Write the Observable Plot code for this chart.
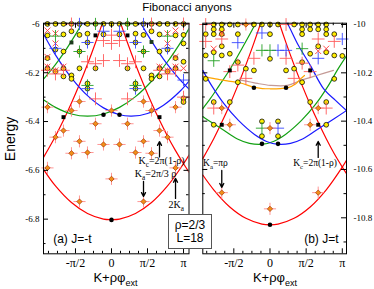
<!DOCTYPE html>
<html>
<head>
<meta charset="utf-8">
<script src="https://cdn.jsdelivr.net/npm/d3@7"></script>
<script src="https://cdn.jsdelivr.net/npm/@observablehq/plot@0.6"></script>
<style>
html,body{margin:0;padding:0;background:#fff;}
#wrap{position:relative;width:374px;height:289px;overflow:hidden;background:#fff;font-family:"Liberation Sans",Arial,sans-serif;color:#000;}
#left,#right{position:absolute;top:0;}
#left{left:0;width:192px;}
#right{left:190px;width:184px;}
.lbl{position:absolute;white-space:nowrap;line-height:1;}
#title{left:0;width:374px;text-align:center;top:2px;font-size:11.5px;}
#ylab{left:10px;top:139px;font-size:14px;transform:translate(-50%,-50%) rotate(-90deg);}
.xl{top:271px;font-size:13px;transform:translateX(-50%);}
.xl span{font-size:9px;position:relative;top:4px;}
#box{position:absolute;left:168px;top:214px;width:42px;height:29px;padding-top:4px;border:1px solid #555;background:#fff;font-size:12px;line-height:13px;text-align:center;z-index:3;}
</style>
</head>
<body>
<div id="wrap">
  <div id="left"></div>
  <div id="right"></div>
  <div class="lbl" id="title">Fibonacci anyons</div>
  <div class="lbl" id="ylab">Energy</div>
  <div class="lbl xl" style="left:115.5px">K+ρφ<span>ext</span></div>
  <div class="lbl xl" style="left:275px">K+ρφ<span>ext</span></div>
  <div id="box">ρ=2/3<br>L=18</div>
</div>
<script>
// ---------- parameters ----------
const L = 18;            // chain length
const kOf = d => 2 * d[0] / L;   // K/π = 2n/L for momentum index n
const eOf = d => d[1];

// ---------- axis ticks ----------
const xTickVals = [-0.5, 0, 0.5, 1];
const xTickLabels = ["-π/2", "0", "π/2", "π"];
const xMinorVals = [-0.875,-0.75,-0.625,-0.375,-0.25,-0.125,0.125,0.25,0.375,0.625,0.75,0.875];
const yTicksA = [-6.8,-6.6,-6.4,-6.2,-6.0];
const yMinorA = [-6.9,-6.7,-6.5,-6.3,-6.1];
const yTicksB = [-10.8,-10.6,-10.4,-10.2,-10.0];
const yMinorB = [-10.9,-10.7,-10.5,-10.3,-10.1];

// ---------- panel (a) J=-t : curves [K/π, E] ----------
const A_red0 = [[-0.944,-6.596],[-0.778,-6.664],[-0.556,-6.732],[-0.333,-6.777],[-0.111,-6.800],[0,-6.802],[0.111,-6.800],[0.333,-6.777],[0.556,-6.732],[0.778,-6.664],[1.0,-6.573],[1.076,-6.537]];
const A_redL = [[-0.944,-6.547],[-0.778,-6.460],[-0.667,-6.395],[-0.556,-6.324],[-0.444,-6.247],[-0.333,-6.165],[-0.222,-6.077],[-0.111,-5.984],[-0.06,-5.94]];
const A_redR = [[0.06,-5.94],[0.111,-5.984],[0.222,-6.077],[0.333,-6.165],[0.444,-6.247],[0.556,-6.324],[0.667,-6.395],[0.778,-6.460],[0.889,-6.519],[1.0,-6.573],[1.076,-6.607]];
const A_green0 = [[-0.944,-6.311],[-0.778,-6.342],[-0.556,-6.369],[-0.333,-6.378],[-0.111,-6.369],[0.111,-6.342],[0.333,-6.298],[0.556,-6.235],[0.778,-6.155],[1.0,-6.057],[1.076,-6.019]];
const A_blue0 = [[-0.944,-6.041],[-0.778,-6.127],[-0.556,-6.221],[-0.333,-6.294],[-0.111,-6.344],[0.111,-6.372],[0.278,-6.378],[0.5,-6.367],[0.722,-6.333],[0.944,-6.278],[1.076,-6.234]];
const A_green1 = [[-0.944,-6.226],[-0.833,-6.187],[-0.722,-6.144],[-0.611,-6.096],[-0.5,-6.044],[-0.389,-5.987],[-0.33,-5.955]];
const A_blue1 = [[0.33,-5.955],[0.389,-5.987],[0.5,-6.044],[0.611,-6.096],[0.722,-6.144],[0.833,-6.187],[0.944,-6.226],[1.076,-6.267]];

// ---------- panel (a) spectrum points [n, E] ----------
const A_yellow = [
  [-8,-6.0],[-7,-6.0],[-6,-6.0],[-5,-6.0],[-4,-6.0],[-3,-6.0],[-2,-6.0],[-1,-6.0],[0,-6.0],[1,-6.0],[2,-6.0],[3,-6.0],[4,-6.0],[5,-6.0],[6,-6.0],[7,-6.0],[8,-6.0],[9,-6.0],
  [-8,-6.047],[-6,-6.043],[-4,-6.045],[-3,-6.040],[-1,-6.043],[1,-6.043],[3,-6.040],[4,-6.045],[6,-6.043],[8,-6.047],[9,-6.045],
  [-3,-6.076],[3,-6.076],[9,-6.08],[-5,-6.03],[5,-6.03],
  [-7,-6.105],[-6,-6.113],[-4,-6.113],[4,-6.113],[6,-6.113],[7,-6.105],
  [9,-6.155],[-8,-6.14],[8,-6.14],
  [-8,-6.182],[-6,-6.182],[-4,-6.182],[-2,-6.182],[2,-6.182],[4,-6.182],[6,-6.182],[8,-6.182],
  [-7,-6.195],[7,-6.195],[-5,-6.211],[5,-6.211],[-5,-6.225],[5,-6.225],[-6,-6.215],[6,-6.215],
  [-3,-6.244],[3,-6.244],[-3,-6.265],[3,-6.265],
  [9,-6.305],[9,-6.32]
];
const A_orange = [[-8,-6.341],[8,-6.341],[-4,-6.318],[4,-6.318],[-5,-6.355],[5,-6.355],[0,-6.355],[-2,-6.409],[2,-6.409],[-6,-6.437],[6,-6.437],[-7,-6.464],[7,-6.464],[-4,-6.481],[4,-6.481],[-1,-6.494],[1,-6.494],[-3,-6.527],[3,-6.527],[-5,-6.530],[5,-6.530],[-8,-6.590],[8,-6.590],[0,-6.635],[-4,-6.728],[4,-6.728]];
const A_redPlus = [[0,-6.046],[0,-6.080],[-1,-6.068],[1,-6.068],[-1,-6.150],[1,-6.150],[-3,-6.155],[3,-6.155],[-2,-6.163],[2,-6.163],[-2,-6.307],[2,-6.307],[9,-6.0],[-6,-6.19],[6,-6.19],[-7,-6.205],[7,-6.205],[-8,-6.19],[8,-6.19],[9,-6.30],[-5,-6.0],[5,-6.0]];
const A_redX = [[-8,-6.027],[8,-6.027],[-7,-6.039],[7,-6.039],[-7,-6.08],[7,-6.08],[-8,-6.135],[8,-6.135],[9,-6.182],[-6,-6.175],[6,-6.175],[-7,-6.19],[7,-6.19],[-8,-6.175],[8,-6.175]];
const A_bluePlus = [[-3,-6.076],[3,-6.076],[-7,-6.10],[7,-6.10],[-3,-6.265],[3,-6.265],[9,-6.23],[-1,-6.03],[1,-6.03],[-4,-6.0],[4,-6.0]];
const A_greenPlus = [[-4,-6.113],[4,-6.113],[-7,-6.05],[7,-6.05],[-3,-6.252],[3,-6.252],[-2,-6.0],[2,-6.0]];
const A_blackSq = [[-2,-6.047],[2,-6.047],[-6,-6.382],[6,-6.382]];
const A_darkSq = [[-5,-6.076],[5,-6.074]];
const A_blackDot = [[-1,-6.372],[1,-6.372],[0,-6.803]];
const A_notes = [
  {t:"K_{c}=2π(1-ρ)", k:0.694, e:-6.572},
  {t:"K_{a}=2π/3 ρ", k:0.611, e:-6.629},
  {t:"2K_{a}", k:0.9, e:-6.756}
];
const A_arrows = [
  {k:2/3, e1:-6.545, e2:-6.482},
  {k:4/9, e1:-6.645, e2:-6.707},
  {k:8/9, e1:-6.715, e2:-6.633}
];

// ---------- panel (b) J=t : curves ----------
const B_red0 = [[-0.929,-10.623],[-0.778,-10.684],[-0.556,-10.755],[-0.333,-10.802],[-0.111,-10.826],[0,-10.829],[0.111,-10.826],[0.333,-10.802],[0.556,-10.755],[0.778,-10.684],[1.0,-10.590],[1.058,-10.562]];
const B_redL = [[-0.929,-10.555],[-0.778,-10.473],[-0.667,-10.405],[-0.556,-10.332],[-0.444,-10.252],[-0.333,-10.167],[-0.222,-10.076],[-0.111,-9.978],[-0.06,-9.93]];
const B_redR = [[0.06,-9.93],[0.111,-9.978],[0.222,-10.076],[0.333,-10.167],[0.444,-10.252],[0.556,-10.332],[0.667,-10.405],[0.778,-10.473],[0.889,-10.535],[1.0,-10.590],[1.058,-10.617]];
const B_green0 = [[-0.929,-10.381],[-0.892,-10.389],[-0.671,-10.431],[-0.450,-10.474],[-0.284,-10.492],[-0.118,-10.496],[0.048,-10.484],[0.214,-10.455],[0.436,-10.397],[0.629,-10.331],[0.809,-10.252],[0.929,-10.190],[1.058,-10.13]];
const B_blue0 = [[-0.929,-10.190],[-0.809,-10.252],[-0.629,-10.331],[-0.436,-10.397],[-0.214,-10.455],[-0.048,-10.484],[0.118,-10.496],[0.284,-10.492],[0.450,-10.474],[0.671,-10.431],[0.892,-10.389],[1.058,-10.356]];
const B_green1 = [[-0.929,-10.348],[-0.823,-10.306],[-0.712,-10.257],[-0.546,-10.182],[-0.380,-10.095],[-0.214,-10.004],[-0.173,-9.979]];
const B_blue1 = [[0.187,-9.971],[0.242,-9.996],[0.394,-10.087],[0.560,-10.170],[0.740,-10.265],[0.906,-10.314],[1.058,-10.356]];
const B_orangeLine = [[-0.929,-10.215],[-0.754,-10.225],[-0.574,-10.234],[-0.408,-10.242],[-0.228,-10.259],[-0.104,-10.265],[0.007,-10.266],[0.145,-10.265],[0.242,-10.262],[0.353,-10.246],[0.422,-10.225],[0.477,-10.211]];
const B_brownLine = [[-0.408,-10.230],[-0.270,-10.238],[-0.173,-10.244],[0.007,-10.252],[0.242,-10.252],[0.422,-10.232],[0.643,-10.211],[0.878,-10.190]];

// ---------- panel (b) spectrum points ----------
const B_yellow = [
  [-7,-10.0],[-6,-10.0],[-5,-10.0],[-4,-10.0],[-2,-10.0],[-1,-10.0],[0,-10.0],[1,-10.0],[3,-10.0],[4,-10.0],[5,-10.0],[6,-10.0],[7,-10.0],
  [-7,-10.02],[-6,-10.02],[4,-10.02],[5,-10.02],[6,-10.02],[7,-10.02],
  [-8,-10.04],[-7,-10.04],[-6,-10.04],[-4,-10.04],[0,-10.04],[4,-10.04],[7,-10.04],[8,-10.04],
  [-7,-10.115],[7,-10.115],[-5,-10.121],[5,-10.121],[-8,-10.128],[-6,-10.128],[8,-10.128],[0,-10.142],
  [-4,-10.156],[4,-10.156],[9,-10.13],[-3,-10.183],[3,-10.183],[-2,-10.19],[2,-10.19],[6,-10.09],[-6,-10.09],
  [-8,-10.225],[8,-10.225],[-4,-10.239],[4,-10.239],
  [-7,-10.321],[7,-10.321],[-5,-10.321],[5,-10.321],
  [-1,-10.401],[1,-10.401],[-7,-10.415],[7,-10.415],[-1,-10.462],[1,-10.462]
];
const B_orange = [[-6,-10.346],[6,-10.346],[-5,-10.415],[5,-10.415],[0,-10.429],[-6,-10.696],[6,-10.696],[0,-10.763],[-3,-10.0]];
const B_redPlus = [[-8,-10.0],[2,-10.0],[-8,-10.07],[8,-10.07],[-7,-10.346],[7,-10.346],[-4,-10.168],[-5,-10.195],[-3,-10.223],[4,-10.16],[5,-10.195],[3,-10.223],[-6,-10.06],[6,-10.06],[-2,-10.14],[2,-10.14]];
const B_redX = [[-6,-10.035],[7,-10.10],[-7,-10.10],[6,-10.11]];
const B_bluePlus = [[1,-10.107],[2,-10.107],[6,-10.14],[-4,-10.075],[9,-10.06],[1,-10.429],[-1,-10.035]];
const B_greenPlus = [[-1,-10.107],[0,-10.107],[-7,-10.15],[-1,-10.429],[4,-10.10]];
const B_blackSq = [[-5,-10.19],[5,-10.19],[-6,-10.415],[6,-10.415]];
const B_darkSq = [];
const B_blackDot = [[-2,-10.262],[2,-10.262],[-1,-10.494],[1,-10.494],[0,-10.829]];
const B_notes = [
  {t:"K_{a}=πρ", k:-0.754, e:-10.587},
  {t:"K_{c}=2π(1-ρ)", k:0.623, e:-10.587}
];
const B_arrows = [
  {k:-2/3, e1:-10.604, e2:-10.674},
  {k:2/3, e1:-10.550, e2:-10.484}
];

const RED = "#ff0000", GREEN = "#12a012", BLUE = "#1a1aff", ORANGE = "#ffa500", BROWN = "#c49a96";

function panel(c) {
  const H = 289, mt = 22.7, mb = 35.7;
  const ih = H - mt - mb, iw = c.width - c.ml - c.mr;
  const ser = "Liberation Serif, Times New Roman, serif";
  const sans = "Liberation Sans, Arial, sans-serif";
  return Plot.plot({
    width: c.width, height: H,
    marginLeft: c.ml, marginRight: c.mr, marginTop: mt, marginBottom: mb,
    style: {background: "transparent", fontFamily: ser, overflow: "visible"},
    x: {domain: c.xdom},
    y: {domain: c.ydom},
    marks: [
      ...c.curves.map(([data, col]) => Plot.line(data, {x: d => d[0], y: d => d[1], stroke: col, strokeWidth: 1.2, curve: "catmull-rom", clip: true})),
      Plot.dot(c.yellow, {x: kOf, y: eOf, r: 2.4, fill: "#ffee00", stroke: "#000", strokeWidth: 0.75}),
      Plot.dot(c.redX, {x: kOf, y: eOf, symbol: "times", r: 2.8, stroke: "#ff3a3a", strokeWidth: 0.9}),
      Plot.dot(c.redPlus, {x: kOf, y: eOf, symbol: "plus", r: 4.2, stroke: "#ff5a5a", strokeWidth: 0.9}),
      Plot.dot(c.bluePlus, {x: kOf, y: eOf, symbol: "plus", r: 4, stroke: "#3a48ff", strokeWidth: 0.9}),
      Plot.dot(c.greenPlus, {x: kOf, y: eOf, symbol: "plus", r: 4, stroke: "#24a024", strokeWidth: 0.9}),
      Plot.dot(c.orange, {x: kOf, y: eOf, symbol: "plus", r: 4, stroke: "#ff8a8a", strokeWidth: 0.9}),
      Plot.dot(c.orange, {x: kOf, y: eOf, symbol: "diamond2", r: 2.4, fill: "#f0901a", stroke: "#a83000", strokeWidth: 0.7}),
      Plot.dot(c.darkSq, {x: kOf, y: eOf, symbol: "square", r: 2.2, fill: "#1c3a1c"}),
      Plot.dot(c.blackSq, {x: kOf, y: eOf, symbol: "square", r: 2.2, fill: "#000"}),
      Plot.dot(c.blackDot, {x: kOf, y: eOf, r: 2.3, fill: "#000"}),
      Plot.arrow(c.arrows, {x1: d => d.k, x2: d => d.k, y1: d => d.e1, y2: d => d.e2, stroke: "#000", strokeWidth: 1.3, headLength: 5, headAngle: 55}),
      Plot.text(c.notes, {x: d => d.k, y: d => d.e, text: d => d.t, fontSize: c.noteSize, fontFamily: ser, textAnchor: "middle", lineAnchor: "bottom"}),
      Plot.text([c.tag], {text: d => d, frameAnchor: c.tagAnchor, dx: c.tagDx, dy: -14.3, textAnchor: c.tagTextAnchor, lineAnchor: "middle", fontSize: 12, fontFamily: sans}),
      Plot.frame({stroke: "#000", strokeWidth: 1}),
      Plot.ruleX(xTickVals, {x: d => d, insetTop: ih - 5, stroke: "#000"}),
      Plot.ruleX(xTickVals, {x: d => d, insetBottom: ih - 5, stroke: "#000"}),
      Plot.ruleX(xMinorVals, {x: d => d, insetTop: ih - 2.5, stroke: "#000"}),
      Plot.ruleX(xMinorVals, {x: d => d, insetBottom: ih - 2.5, stroke: "#000"}),
      Plot.ruleY(c.yTicks, {y: d => d, insetRight: iw - 5, stroke: "#000"}),
      Plot.ruleY(c.yTicks, {y: d => d, insetLeft: iw - 5, stroke: "#000"}),
      Plot.ruleY(c.yMinor, {y: d => d, insetRight: iw - 2.5, stroke: "#000"}),
      Plot.ruleY(c.yMinor, {y: d => d, insetLeft: iw - 2.5, stroke: "#000"}),
      Plot.axisX(xTickVals, {anchor: "bottom", tickSize: 0, tickPadding: 5, tickFormat: d => xTickLabels[xTickVals.indexOf(d)], fontSize: 12, fontFamily: ser, label: null}),
      Plot.axisY(c.yTicks, {anchor: c.yAnchor, tickSize: 0, tickPadding: c.yPad, tickFormat: d => String(+d.toFixed(1)), fontSize: 9, fontFamily: ser, label: null})
    ]
  });
}

function subify(svg) {
  const ns = "http://www.w3.org/2000/svg";
  svg.querySelectorAll("text").forEach(t => {
    const s = t.textContent;
    if (!s.includes("_{")) return;
    t.textContent = "";
    const re = /_\{([^}]*)\}/g;
    let last = 0, m, shifted = false;
    const add = (str, sub) => {
      if (!str) return;
      const ts = document.createElementNS(ns, "tspan");
      ts.textContent = str;
      if (sub) { ts.setAttribute("dy", "3"); ts.setAttribute("font-size", "0.72em"); shifted = true; }
      else if (shifted) { ts.setAttribute("dy", "-3"); shifted = false; }
      t.appendChild(ts);
    };
    while ((m = re.exec(s))) { add(s.slice(last, m.index), false); add(m[1], true); last = re.lastIndex; }
    add(s.slice(last), false);
  });
}

const svgA = panel({
  width: 192, ml: 43, mr: 3.5,
  xdom: [-0.944, 1.076], ydom: [-6.942, -5.997],
  yTicks: yTicksA, yMinor: yMinorA, yAnchor: "left", yPad: 4,
  curves: [[A_red0, RED], [A_redL, RED], [A_redR, RED], [A_green0, GREEN], [A_green1, GREEN], [A_blue0, BLUE], [A_blue1, BLUE]],
  yellow: A_yellow, orange: A_orange, redPlus: A_redPlus, redX: A_redX, bluePlus: A_bluePlus, greenPlus: A_greenPlus,
  blackSq: A_blackSq, darkSq: A_darkSq, blackDot: A_blackDot,
  notes: A_notes, arrows: A_arrows, noteSize: 10,
  tag: "(a) J=-t", tagAnchor: "bottom-left", tagDx: 9.7, tagTextAnchor: "start"
});
const svgB = panel({
  width: 184, ml: 12.3, mr: 28,
  xdom: [-0.929, 1.058], ydom: [-10.949, -9.9946],
  yTicks: yTicksB, yMinor: yMinorB, yAnchor: "right", yPad: 7,
  curves: [[B_red0, RED], [B_redL, RED], [B_redR, RED], [B_green0, GREEN], [B_green1, GREEN], [B_blue0, BLUE], [B_blue1, BLUE], [B_brownLine, BROWN], [B_orangeLine, ORANGE]],
  yellow: B_yellow, orange: B_orange, redPlus: B_redPlus, redX: B_redX, bluePlus: B_bluePlus, greenPlus: B_greenPlus,
  blackSq: B_blackSq, darkSq: B_darkSq, blackDot: B_blackDot,
  notes: B_notes, arrows: B_arrows, noteSize: 9.5,
  tag: "(b) J=t", tagAnchor: "bottom-right", tagDx: -8, tagTextAnchor: "end"
});
subify(svgA); subify(svgB);
document.getElementById("left").appendChild(svgA);
document.getElementById("right").appendChild(svgB);
</script>
</body>
</html>
